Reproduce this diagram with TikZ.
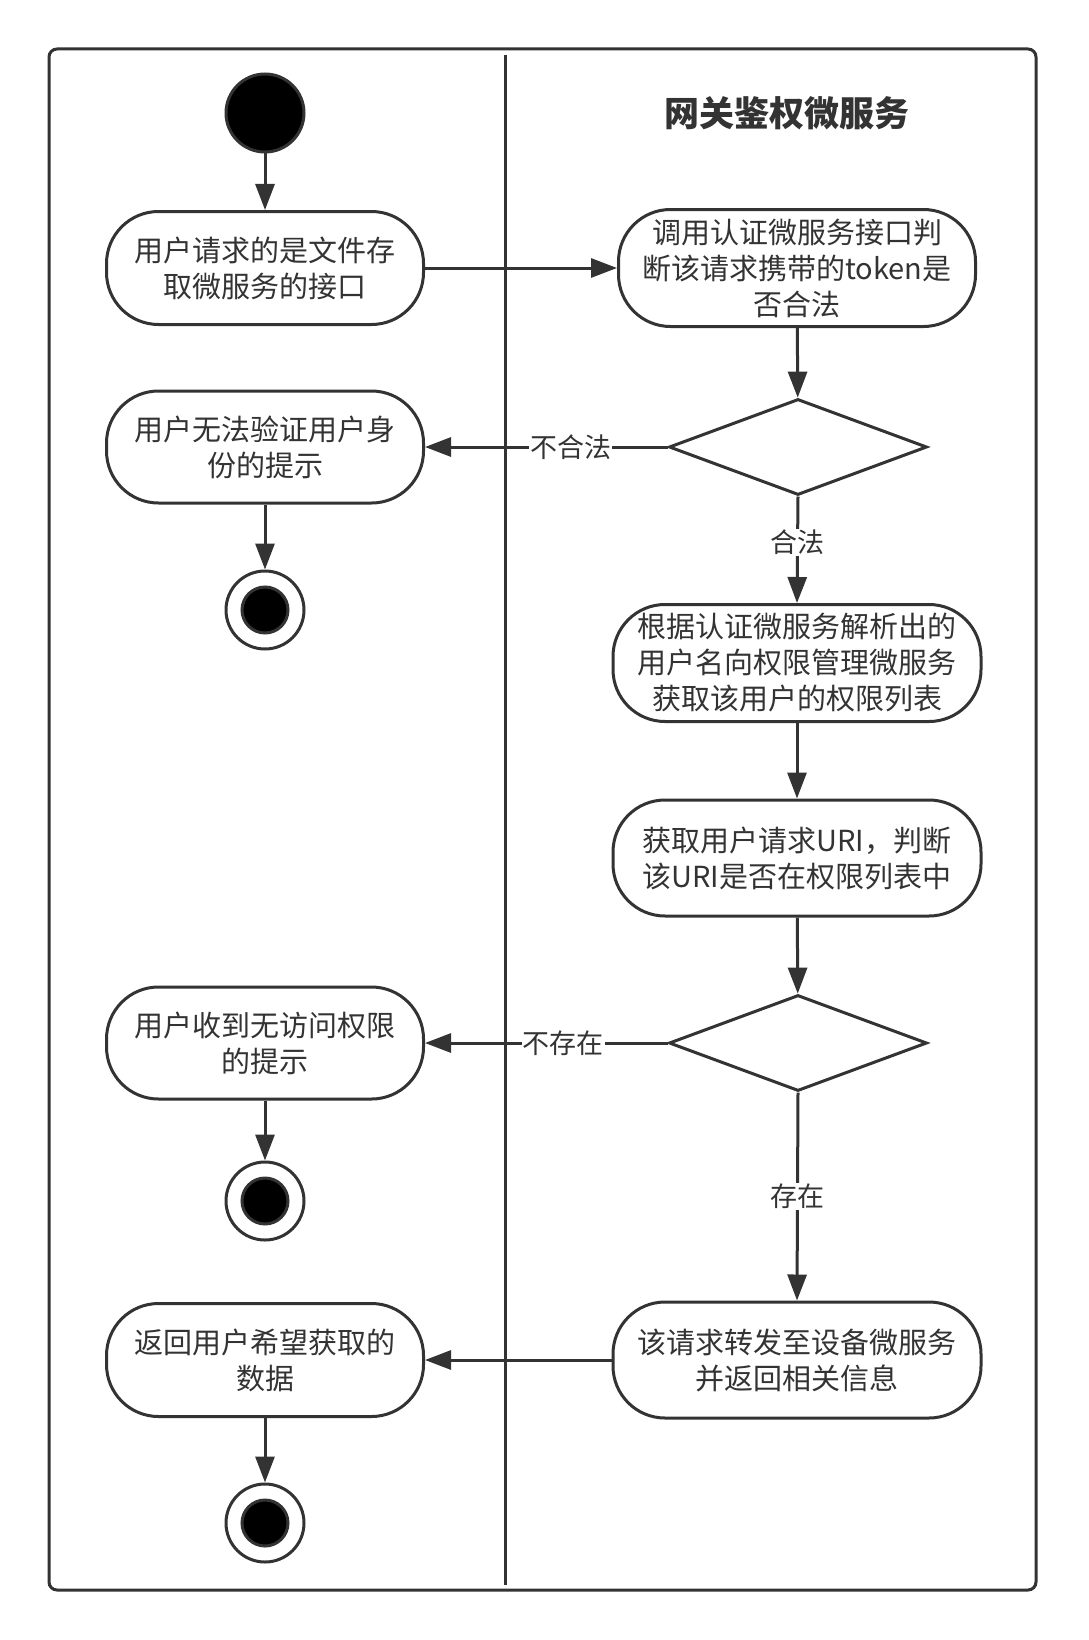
\documentclass[tikz,border=0pt]{standalone}
\usepackage{fontspec}
\setmainfont{Noto Sans CJK SC}
\usetikzlibrary{shapes.geometric, arrows.meta, positioning}
\definecolor{linegray}{RGB}{51,51,51}
\tikzset{
  basebox/.style={
    rectangle, rounded corners=52pt, draw=linegray, line width=3pt, fill=white,
    align=center, text=linegray, inner sep=0pt, font=\fontsize{29}{36}\selectfont
  },
  leftbox/.style={basebox, minimum width=317pt, minimum height=112pt},
  rightbox/.style={basebox, minimum width=368pt, minimum height=116pt},
  decisionbox/.style={diamond, aspect=2.7, draw=linegray, line width=3pt, fill=white,
    minimum width=258pt, minimum height=96pt, inner sep=0pt},
  startdot/.style={circle, draw=linegray, line width=3pt, fill=black, minimum size=78pt, inner sep=0pt},
  endring/.style={circle, draw=linegray, line width=3pt, fill=white, minimum size=78pt, inner sep=0pt},
  enddot/.style={circle, draw=linegray, line width=3pt, fill=black, minimum size=46pt, inner sep=0pt},
  arrow/.style={-{Triangle[length=26pt,width=19pt]}, line width=3pt, color=linegray},
  edgelabel/.style={fill=white, inner sep=1pt, text=linegray, font=\fontsize{27}{30}\selectfont}
}
\begin{document}
\begin{tikzpicture}[x=1pt, y=-1pt]
  \path[use as bounding box, fill=white] (0,0) rectangle (1088,1640);
  % swimlanes
  \draw[linegray, line width=3pt, rounded corners=8pt] (49,49) rectangle (1036,1590);
  \draw[linegray, line width=3pt] (505,55) -- (505,1585);
  \node[text=linegray, font=\fontsize{35}{42}\selectfont\bfseries] (lanetitle) at (787,113) {网关鉴权微服务};
  % left lane
  \node[startdot] (start) at (265,113) {};
  \node[leftbox, minimum height=113pt] (req) at (265,268) {用户请求的是文件存\\取微服务的接口};
  \node[leftbox] (fail) at (265,447) {用户无法验证用户身\\份的提示};
  \node[endring] (end1) at (265,610) {};
  \node[enddot] (end1dot) at (end1) {};
  \node[leftbox] (deny) at (265,1043) {用户收到无访问权限\\的提示};
  \node[endring] (end2) at (265,1201) {};
  \node[enddot] (end2dot) at (end2) {};
  \node[leftbox, minimum height=113pt] (back) at (265,1360) {返回用户希望获取的\\数据};
  \node[endring] (end3) at (265,1523) {};
  \node[enddot] (end3dot) at (end3) {};
  % right lane
  \node[rightbox, minimum width=357pt, minimum height=117pt] (check) at (797,268) {调用认证微服务接口判\\断该请求携带的token是\\否合法};
  \node[decisionbox] (valid) at (798,447) {};
  \node[rightbox, minimum height=117pt] (perm) at (797,663) {根据认证微服务解析出的\\用户名向权限管理微服务\\获取该用户的权限列表};
  \node[rightbox] (uri) at (797,858) {获取用户请求URI，判断\\该URI是否在权限列表中};
  \node[decisionbox] (inlist) at (798,1043) {};
  \node[rightbox] (fwd) at (797,1360) {该请求转发至设备微服务\\并返回相关信息};
  % flows
  \draw[arrow] (start) -- (req);
  \draw[arrow] (req) -- (check);
  \draw[arrow] (check) -- (valid);
  \draw[arrow] (valid.west) -- node[edgelabel, pos=0.4] {不合法} (fail.east);
  \draw[arrow] (valid.south) -- node[edgelabel, pos=0.43] {合法} (perm.north);
  \draw[arrow] (fail) -- (end1);
  \draw[arrow] (perm) -- (uri);
  \draw[arrow] (uri) -- (inlist);
  \draw[arrow] (inlist.west) -- node[edgelabel, pos=0.43] {不存在} (deny.east);
  \draw[arrow] (inlist.south) -- node[edgelabel, pos=0.5] {存在} (fwd.north);
  \draw[arrow] (deny) -- (end2);
  \draw[arrow] (fwd) -- (back);
  \draw[arrow] (back) -- (end3);
\end{tikzpicture}
\end{document}
